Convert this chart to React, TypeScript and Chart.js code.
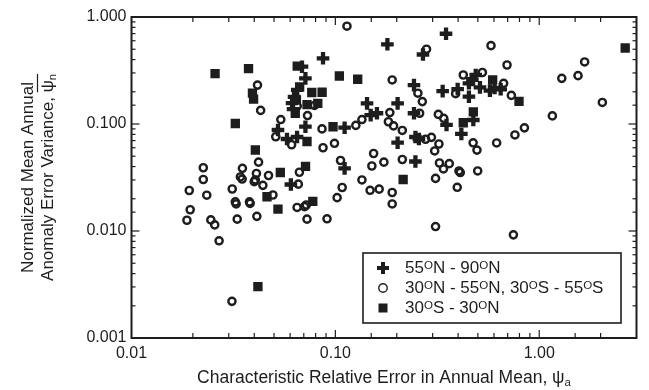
import React, { useEffect, useRef } from 'react';
import { Chart, registerables } from 'chart.js';

Chart.register(...registerables);

// 55°N - 90°N (plus markers)
const northX = [0.18, 0.087, 0.0686, 0.0713, 0.349, 0.269, 0.243, 0.336, 0.398, 0.488, 0.47, 0.452, 0.512, 0.573, 0.647, 0.604, 0.452, 0.143, 0.202, 0.16, 0.149, 0.111, 0.0713, 0.243, 0.351, 0.475, 0.415, 0.202, 0.247, 0.257, 0.247, 0.111, 0.0605, 0.0523, 0.0579, 0.0649, 0.065, 0.0627, 0.0613, 0.062];
const northY = [0.556, 0.411, 0.343, 0.267, 0.697, 0.446, 0.231, 0.203, 0.212, 0.287, 0.258, 0.24, 0.22, 0.205, 0.211, 0.217, 0.18, 0.156, 0.156, 0.126, 0.121, 0.0923, 0.0944, 0.126, 0.098, 0.109, 0.0807, 0.0669, 0.0756, 0.0724, 0.0446, 0.0385, 0.0272, 0.0879, 0.0724, 0.0756, 0.208, 0.179, 0.157, 0.138];

// 30°N - 55°N, 30°S - 55°S (open circles)
const midX = [0.114, 0.19, 0.0415, 0.065, 0.079, 0.043, 0.185, 0.135, 0.126, 0.086, 0.182, 0.193, 0.073, 0.054, 0.051, 0.061, 0.087, 0.099, 0.042, 0.0225, 0.035, 0.154, 0.151, 0.173, 0.106, 0.0666, 0.041, 0.047, 0.135, 0.28, 0.424, 0.254, 0.267, 0.389, 0.259, 0.32, 0.34, 0.213, 0.277, 0.296, 0.322, 0.307, 0.58, 1.67, 0.695, 1.29, 1.55, 0.526, 0.669, 0.73, 2.04, 1.16, 0.846, 0.76, 0.474, 0.495, 0.618, 0.213, 0.324, 0.362, 0.339, 0.404, 0.499, 0.31, 0.396, 0.19, 0.19, 0.31, 0.747, 0.0225, 0.0192, 0.0234, 0.0194, 0.0187, 0.0245, 0.0256, 0.0269, 0.0312, 0.0342, 0.04, 0.0441, 0.0658, 0.0323, 0.0379, 0.0494, 0.033, 0.0412, 0.0649, 0.0706, 0.0726, 0.091, 0.108, 0.102, 0.148, 0.164, 0.0311, 0.0326, 0.0382, 0.0405, 0.0349, 0.072, 0.41];
const midY = [0.82, 0.258, 0.231, 0.147, 0.149, 0.134, 0.128, 0.11, 0.097, 0.09, 0.105, 0.096, 0.12, 0.11, 0.076, 0.064, 0.06, 0.066, 0.044, 0.039, 0.0385, 0.053, 0.0405, 0.044, 0.0456, 0.0354, 0.0345, 0.033, 0.03, 0.5, 0.287, 0.194, 0.162, 0.192, 0.126, 0.123, 0.113, 0.087, 0.072, 0.075, 0.065, 0.056, 0.54, 0.38, 0.356, 0.267, 0.283, 0.303, 0.24, 0.185, 0.159, 0.119, 0.092, 0.079, 0.0667, 0.057, 0.0665, 0.0466, 0.0432, 0.0426, 0.038, 0.0364, 0.0364, 0.031, 0.0256, 0.0229, 0.0179, 0.011, 0.0092, 0.0303, 0.0239, 0.0216, 0.0158, 0.0126, 0.0127, 0.0114, 0.0081, 0.0247, 0.032, 0.0289, 0.0267, 0.0274, 0.0187, 0.0187, 0.0217, 0.0129, 0.0137, 0.0166, 0.0169, 0.0129, 0.013, 0.0255, 0.0205, 0.024, 0.0246, 0.0022, 0.0179, 0.0181, 0.03, 0.0306, 0.0175, 0.0352];

// 30°S - 30°N (filled squares)
const tropX = [0.0257, 0.0375, 0.0323, 0.0405, 0.0392, 0.0397, 0.065, 0.0668, 0.0636, 0.0766, 0.0861, 0.0726, 0.082, 0.1046, 0.1287, 0.0974, 0.0726, 0.0714, 0.0537, 0.0462, 0.0523, 0.0775, 0.0417, 0.215, 0.475, 0.424, 0.591, 0.796, 2.64, 0.0644];
const tropY = [0.296, 0.329, 0.101, 0.0571, 0.194, 0.171, 0.348, 0.222, 0.126, 0.197, 0.198, 0.152, 0.156, 0.281, 0.262, 0.0942, 0.0686, 0.0402, 0.0352, 0.0209, 0.016, 0.0189, 0.00302, 0.0303, 0.13, 0.1028, 0.258, 0.163, 0.513, 0.168];

const legendLabels = ['55^ON - 90^ON', '30^ON - 55^ON, 30^OS - 55^OS', '30^OS - 30^ON'];
const xTitleText = 'Characteristic Relative Error in Annual Mean, ψ';
const xTitleSub = 'a';
const yTitleLine1 = 'Normalized Mean Annual';
const yTitleLine2 = 'Anomaly Error Variance, ';
const yTitleSym = 'ψ';
const yTitleSub = 'n';

const X_MIN = 0.01;
const X_MAX = 3;
const Y_MIN = 0.001;
const Y_MAX = 1;

const FONT = '"Liberation Sans", Arial, Helvetica, sans-serif';
const INK = '#1d1d1d';

const isDecade = (v: number) => Math.abs(Math.log10(v) - Math.round(Math.log10(v))) < 1e-6;

function toPoints(xs: number[], ys: number[]) {
  return xs.map((x, i) => ({ x, y: ys[i] }));
}

function drawRich(ctx: CanvasRenderingContext2D, text: string, x: number, y: number, size: number) {
  const parts = text.split('^O');
  let cx = x;
  parts.forEach((p, i) => {
    ctx.font = `${size}px ${FONT}`;
    ctx.fillText(p, cx, y);
    cx += ctx.measureText(p).width;
    if (i < parts.length - 1) {
      ctx.font = `${size * 0.68}px ${FONT}`;
      ctx.fillText('O', cx, y - 2);
      cx += ctx.measureText('O').width;
    }
  });
}

const decorPlugin = {
  id: 'decor',
  afterDatasetsDraw(chart: any) {
    const { ctx, chartArea: a, scales } = chart;
    const xs = scales.x;
    const ys = scales.y;
    ctx.save();
    ctx.strokeStyle = INK;
    ctx.lineWidth = 1.2;
    const line = (x1: number, y1: number, x2: number, y2: number) => {
      ctx.beginPath();
      ctx.moveTo(x1, y1);
      ctx.lineTo(x2, y2);
      ctx.stroke();
    };
    xs.ticks.forEach((t: any) => {
      const px = xs.getPixelForValue(t.value);
      if (px < a.left + 1 || px > a.right - 1) return;
      const len = isDecade(t.value) ? 8 : 5;
      line(px, a.bottom, px, a.bottom - len);
      line(px, a.top, px, a.top + len);
    });
    ys.ticks.forEach((t: any) => {
      const py = ys.getPixelForValue(t.value);
      if (py < a.top + 1 || py > a.bottom - 1) return;
      const len = isDecade(t.value) ? 8 : 4;
      line(a.left, py, a.left + len, py);
      line(a.right, py, a.right - len, py);
    });
    ctx.lineWidth = 2;
    ctx.strokeRect(a.left, a.top, a.right - a.left, a.bottom - a.top);

    // legend box
    const lx = 363, ly = 253, lw = 258, lh = 70;
    ctx.fillStyle = '#ffffff';
    ctx.fillRect(lx, ly, lw, lh);
    ctx.lineWidth = 1.6;
    ctx.strokeRect(lx, ly, lw, lh);
    const mx = 383;
    const rows = [268, 288, 308];
    // plus
    ctx.lineWidth = 4;
    line(mx - 6, rows[0], mx + 6, rows[0]);
    line(mx, rows[0] - 6, mx, rows[0] + 6);
    // circle
    ctx.lineWidth = 1.4;
    ctx.beginPath();
    ctx.arc(mx, rows[1], 4.2, 0, Math.PI * 2);
    ctx.stroke();
    // square
    ctx.fillStyle = INK;
    ctx.fillRect(mx - 4.5, rows[2] - 4.5, 9, 9);
    ctx.fillStyle = INK;
    ctx.textBaseline = 'middle';
    ctx.textAlign = 'left';
    legendLabels.forEach((lab, i) => drawRich(ctx, lab, 405, rows[i], 17));

    // x title
    const xsize = 17.5;
    ctx.font = `${xsize}px ${FONT}`;
    const w1 = ctx.measureText(xTitleText).width;
    ctx.font = `${xsize * 0.65}px ${FONT}`;
    const w2 = ctx.measureText(xTitleSub).width;
    const cxm = (a.left + a.right) / 2;
    const sx = cxm - (w1 + w2) / 2;
    ctx.font = `${xsize}px ${FONT}`;
    ctx.fillText(xTitleText, sx, 378);
    ctx.font = `${xsize * 0.65}px ${FONT}`;
    ctx.fillText(xTitleSub, sx + w1, 383);

    // y title
    const ysize = 17;
    const cym = (a.top + a.bottom) / 2;
    ctx.save();
    ctx.translate(28, cym);
    ctx.rotate(-Math.PI / 2);
    ctx.textAlign = 'center';
    ctx.font = `${ysize}px ${FONT}`;
    ctx.fillText(yTitleLine1, 0, 0);
    ctx.restore();

    ctx.save();
    ctx.translate(48, cym);
    ctx.rotate(-Math.PI / 2);
    ctx.textAlign = 'left';
    ctx.font = `${ysize}px ${FONT}`;
    const t1 = ctx.measureText(yTitleLine2).width;
    const t2 = ctx.measureText(yTitleSym).width;
    ctx.font = `${ysize * 0.65}px ${FONT}`;
    const t3 = ctx.measureText(yTitleSub).width;
    const start = -(t1 + t2 + t3) / 2;
    ctx.font = `${ysize}px ${FONT}`;
    ctx.fillText(yTitleLine2, start, 0);
    ctx.fillText(yTitleSym, start + t1, 0);
    ctx.font = `${ysize * 0.65}px ${FONT}`;
    ctx.fillText(yTitleSub, start + t1 + t2, 5);
    ctx.lineWidth = 1.2;
    ctx.beginPath();
    ctx.moveTo(start + t1, -10.5);
    ctx.lineTo(start + t1 + t2 + t3, -10.5);
    ctx.stroke();
    ctx.restore();

    ctx.restore();
  },
};

export default function App() {
  const ref = useRef<HTMLCanvasElement | null>(null);

  useEffect(() => {
    if (!ref.current) return;
    const chart = new Chart(ref.current, {
      type: 'scatter',
      data: {
        datasets: [
          {
            label: '55N-90N',
            data: toPoints(northX, northY),
            pointStyle: 'cross',
            pointRadius: 6.3,
            borderWidth: 4.3,
            pointBorderWidth: 4.3,
            borderColor: INK,
            backgroundColor: INK,
          },
          {
            label: '30-55',
            data: toPoints(midX, midY),
            pointStyle: 'circle',
            pointRadius: 3.6,
            borderWidth: 2.4,
            pointBorderWidth: 2.4,
            borderColor: INK,
            backgroundColor: 'rgba(0,0,0,0)',
          },
          {
            label: '30S-30N',
            data: toPoints(tropX, tropY),
            pointStyle: 'rect',
            pointRadius: 6.6,
            borderWidth: 0,
            pointBorderWidth: 0,
            borderColor: INK,
            backgroundColor: INK,
          },
        ],
      },
      options: {
        animation: false,
        responsive: false,
        maintainAspectRatio: false,
        layout: { padding: { top: 17, right: 12.5, left: 0, bottom: 0 } },
        plugins: {
          legend: { display: false },
          tooltip: { enabled: false },
        },
        scales: {
          x: {
            type: 'logarithmic',
            min: X_MIN,
            max: X_MAX,
            grid: { display: false, drawTicks: false },
            border: { display: false },
            afterFit: (s: any) => {
              s.height = 52;
            },
            ticks: {
              autoSkip: false,
              maxRotation: 0,
              padding: 6,
              color: INK,
              font: { family: FONT, size: 16 },
              callback: (v: any) => {
                const n = Number(v);
                if (!isDecade(n)) return '';
                return n < 0.05 ? '0.01' : n.toFixed(2);
              },
            },
          },
          y: {
            type: 'logarithmic',
            min: Y_MIN,
            max: Y_MAX,
            grid: { display: false, drawTicks: false },
            border: { display: false },
            afterFit: (s: any) => {
              s.width = 131.5;
            },
            ticks: {
              autoSkip: false,
              padding: 5,
              color: INK,
              font: { family: FONT, size: 16 },
              callback: (v: any) => {
                const n = Number(v);
                if (!isDecade(n)) return '';
                return n.toFixed(3);
              },
            },
          },
        },
      },
      plugins: [decorPlugin],
    });
    return () => chart.destroy();
  }, []);

  return (
    <div style={{ position: 'fixed', left: 0, top: 0, width: 649, height: 390, background: '#fff' }}>
      <canvas ref={ref} width={649} height={390} style={{ display: 'block', width: 649, height: 390 }} />
    </div>
  );
}
